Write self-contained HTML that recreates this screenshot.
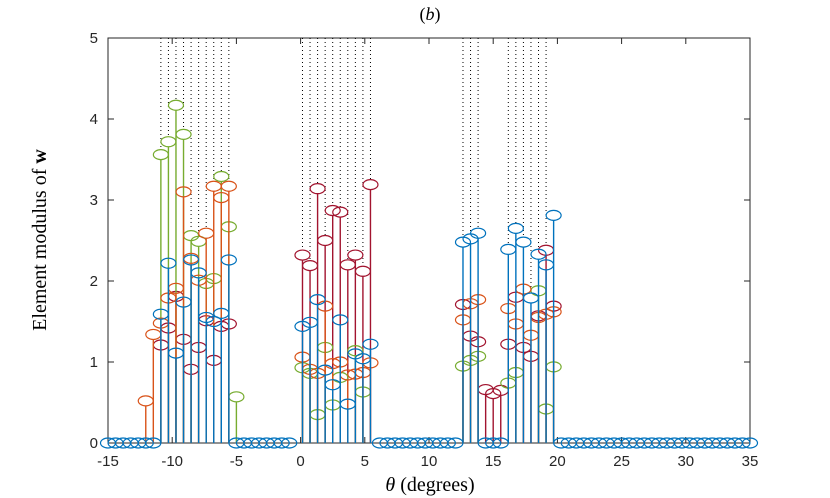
<!DOCTYPE html>
<html>
<head>
<meta charset="utf-8">
<style>
  html,body{margin:0;padding:0;background:#fff;}
  svg{display:block;}
  .tick{font-family:"Liberation Sans",sans-serif;font-size:15px;fill:#262626;}
  .lab{font-family:"Liberation Serif",serif;fill:#000;}
</style>
</head>
<body>
<svg id="chart" width="830" height="498" viewBox="0 0 830 498">
  <text class="lab" x="430" y="20" text-anchor="middle" font-size="18">(<tspan font-style="italic">b</tspan>)</text>
  <text class="lab" transform="translate(46,240) rotate(-90)" text-anchor="middle" font-size="20">Element modulus of <tspan font-weight="bold">w</tspan></text>
  <text class="lab" x="430" y="491" text-anchor="middle" font-size="20"><tspan font-style="italic">θ</tspan> (degrees)</text>
  <g id="plot"></g>
</svg>
<script>
// categories: angle grid index -> theta (degrees)
const gridCount = 86;
const thetaStart = -15;
const thetaEnd = 35;
// group start indices on the grid
const group1Start = 5;
const group2Start = 25.75;
const group3Start = 47;
// series values per group
const g1Blue   = [0, 0, 1.59, 2.22, 1.11, 1.74, 2.26, 2.10, 1.55, 1.50, 1.60, 2.26, 0];
const g1Orange = [0.52, 1.34, 1.48, 1.79, 1.91, 3.10, 2.28, 2.01, 2.59, 3.17, 3.03, 3.17, 0];
const g1Green  = [0, 0, 3.56, 3.72, 4.17, 3.81, 2.56, 2.49, 1.97, 2.03, 3.29, 2.67, 0.57];
const g1Red    = [0, 0, 1.21, 1.42, 1.81, 1.28, 0.91, 1.18, 1.51, 1.02, 1.44, 1.47, 0];
const g2Blue   = [1.44, 1.49, 1.77, 0.90, 0.72, 1.52, 0.48, 1.10, 1.04, 1.22];
const g2Orange = [1.06, 0.91, 0.86, 1.69, 0.98, 1.00, 0.84, 0.85, 0.87, 0.99];
const g2Green  = [0.93, 0.86, 0.35, 1.18, 0.47, 0.81, 0, 1.14, 0.63, 0];
const g2Red    = [2.32, 2.19, 3.14, 2.50, 2.87, 2.85, 2.20, 2.32, 2.12, 3.19];
const g3Blue   = [2.48, 2.52, 2.59, 0, 0, 0, 2.39, 2.65, 2.48, 1.79, 2.33, 2.20, 2.81];
const g3Orange = [1.52, 1.72, 1.77, 0, 0, 0, 1.66, 1.47, 1.90, 1.33, 1.55, 1.59, 1.62];
const g3Green  = [0.95, 1.02, 1.07, 0, 0, 0, 0.74, 0.87, 0, 0, 1.88, 0.42, 0.94];
const g3Red    = [1.71, 1.32, 1.25, 0.66, 0.61, 0.65, 1.22, 1.80, 1.18, 1.07, 1.57, 2.38, 1.69];
// guide lines: [group, member index]
const dottedG1 = [2,3,4,5,6,7,8,9,10,11];
const dottedG2 = [0,1,2,3,4,5,6,7,8,9];
const dottedG3 = [0,1,2,6,7,8,9,10,11];
const xTicks = [-15,-10,-5,0,5,10,15,20,25,30,35];
const yTicks = [0,1,2,3,4,5];
const seriesColors = {red:'#A2142F', green:'#77AC30', orange:'#D95319', blue:'#0072BD'};

const NS = 'http://www.w3.org/2000/svg';
const L = 108, R = 750, T = 38, B = 443;
const xMin = -15, xMax = 35, yMin = 0, yMax = 5;
function xs(v){ return L + (v - xMin) / (xMax - xMin) * (R - L); }
function ys(v){ return B - (v - yMin) / (yMax - yMin) * (B - T); }
function theta(k){ return thetaStart + k * (thetaEnd - thetaStart) / (gridCount - 1); }
const plot = document.getElementById('plot');
function mk(tag, attrs, parent){
  const e = document.createElementNS(NS, tag);
  for (const k in attrs) e.setAttribute(k, attrs[k]);
  (parent || plot).appendChild(e);
  return e;
}
// build list of points: {k (grid pos), values per series}
const groups = [
  {start:group1Start, blue:g1Blue, orange:g1Orange, green:g1Green, red:g1Red, dotted:dottedG1},
  {start:group2Start, blue:g2Blue, orange:g2Orange, green:g2Green, red:g2Red, dotted:dottedG2},
  {start:group3Start, blue:g3Blue, orange:g3Orange, green:g3Green, red:g3Red, dotted:dottedG3}
];
const points = [];
for (let k = 0; k < gridCount; k++) {
  const inGroup = groups.some(g => k >= Math.floor(g.start) && k < Math.ceil(g.start + g.blue.length));
  if (!inGroup) points.push({k:k, red:0, green:0, orange:0, blue:0, dotted:false});
}
groups.forEach(g => {
  g.blue.forEach((v,i) => {
    points.push({k:g.start+i, red:g.red[i], green:g.green[i], orange:g.orange[i], blue:g.blue[i], dotted:g.dotted.indexOf(i) >= 0});
  });
});

const box = mk('rect', {x:L, y:T, width:R-L, height:B-T, fill:'none', stroke:'#262626', 'stroke-width':1});



points.forEach(p => {
  if (!p.dotted) return;
  const top = Math.max(p.red, p.green, p.orange, p.blue);
  const x = xs(theta(p.k));
  const ln = mk('line', {x1:x, x2:x, y1:T, y2:ys(top)-5, stroke:'#000', 'stroke-width':1, 'stroke-dasharray':'1 3'});
  
  
});

xTicks.forEach(v => {
  const x = xs(v);
  const t1 = mk('line', {x1:x, x2:x, y1:B, y2:B-6, stroke:'#262626'});
  
  
  const t2 = mk('line', {x1:x, x2:x, y1:T, y2:T+6, stroke:'#262626'});
  
  
  const tx = mk('text', {x:x, y:B+23, 'text-anchor':'middle', class:'tick'});
  tx.textContent = v < 0 ? '-' + Math.abs(v) : String(v);
  
  
});
yTicks.forEach(v => {
  const y = ys(v);
  const t1 = mk('line', {x1:L, x2:L+6, y1:y, y2:y, stroke:'#262626'});
  
  
  const t2 = mk('line', {x1:R, x2:R-6, y1:y, y2:y, stroke:'#262626'});
  
  
  const tx = mk('text', {x:L-10, y:y+5, 'text-anchor':'end', class:'tick'});
  tx.textContent = String(v);
  
  
});

['red','green','orange','blue'].forEach(name => {
  const g = mk('g', {});
  
  
  points.forEach(p => {
    const v = p[name];
    if (name !== 'blue' && v === 0) return;
    const x = xs(theta(p.k)), y = ys(v);
    if (v > 0) {
      const ln = mk('line', {x1:x, x2:x, y1:B, y2:y+5, stroke:seriesColors[name], 'stroke-width':1.4}, g);
      
      
    }
    const c = mk('ellipse', {cx:x, cy:y, rx:7.5, ry:5, fill:'none', stroke:seriesColors[name], 'stroke-width':1.2}, g);
    
    
  });
});
</script>
</body>
</html>
